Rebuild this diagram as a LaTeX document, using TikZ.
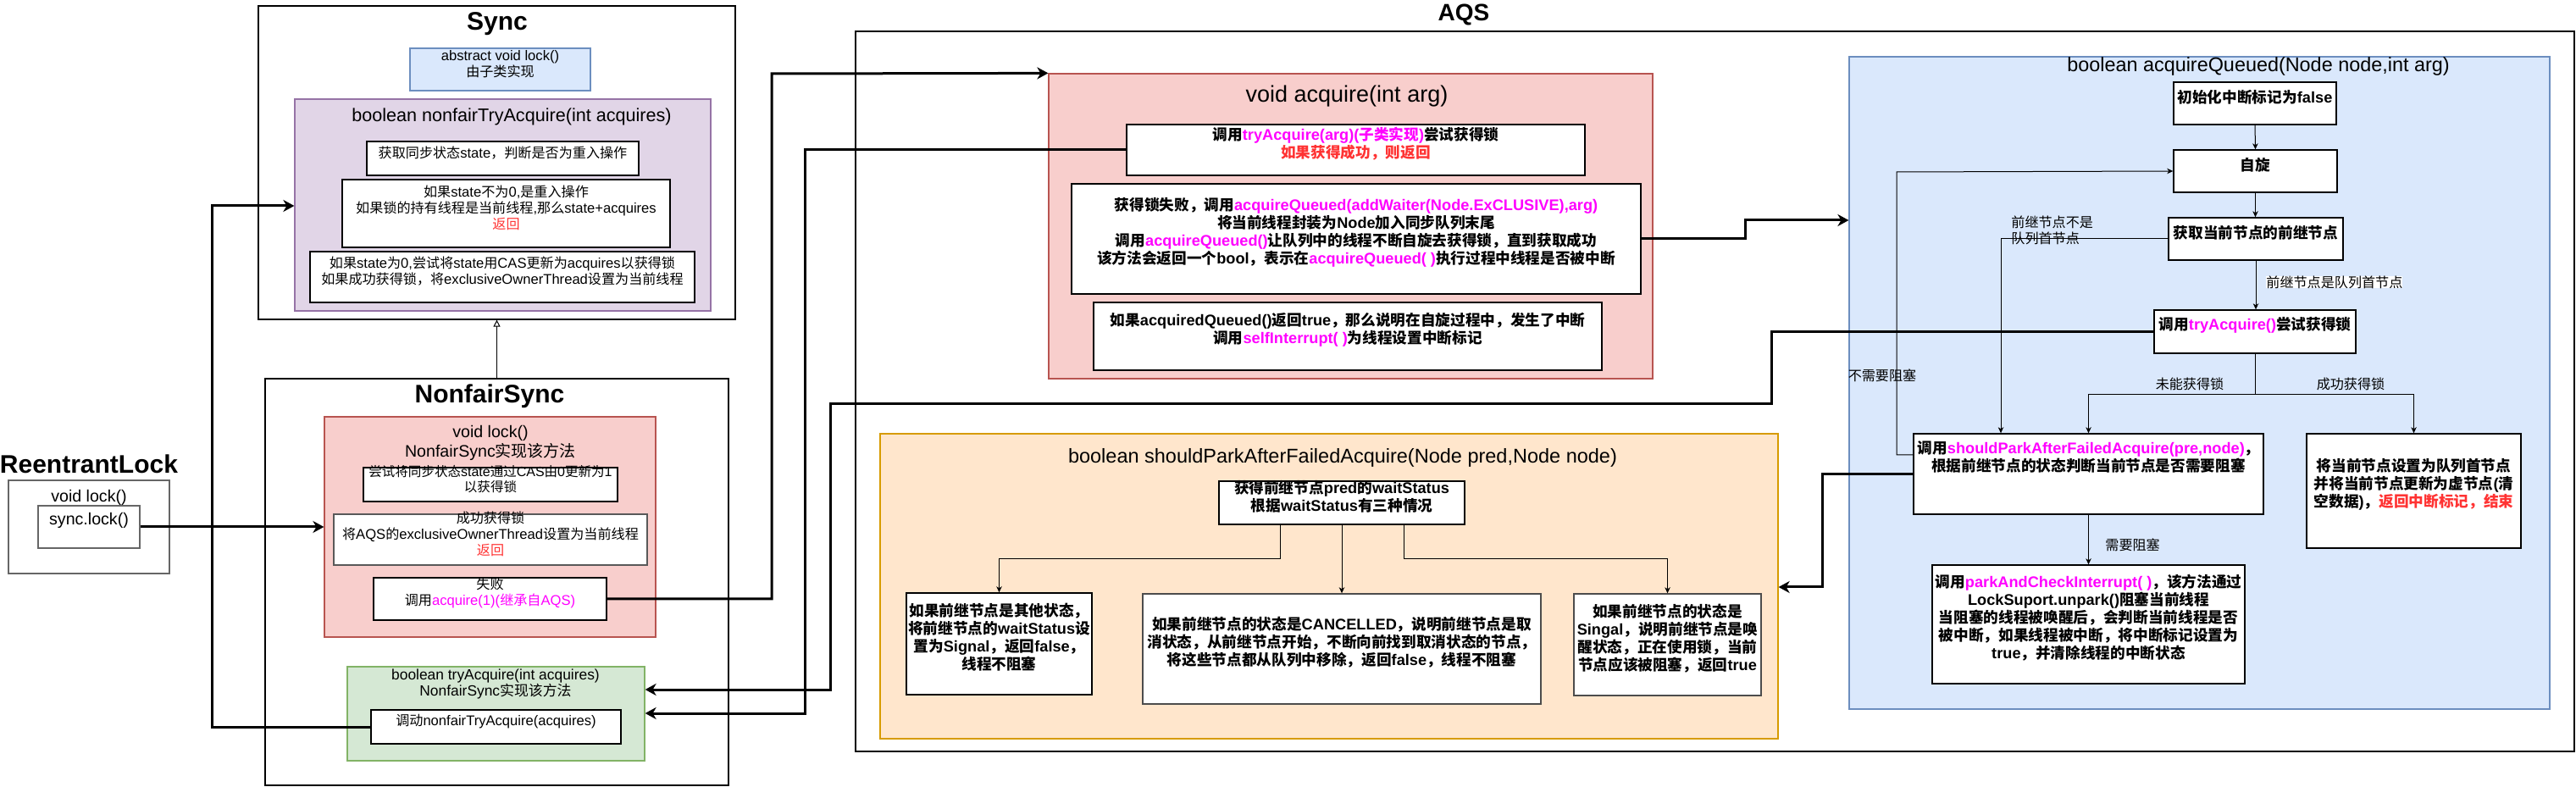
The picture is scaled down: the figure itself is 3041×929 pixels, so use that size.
\documentclass[tikz,border=0pt]{standalone}
\usepackage{fontspec}
\setmainfont{Liberation Sans}
\newfontfamily\cjkfont[Scale=0.97]{Noto Sans CJK SC}
\usetikzlibrary{arrows.meta,fit}
\XeTeXinterchartokenstate=1
\chardef\cjkcls=7
\newcount\cjkcnt
\def\cjkrange#1#2{\cjkcnt=#1\relax\loop\XeTeXcharclass\cjkcnt=\cjkcls\relax\ifnum\cjkcnt<#2\relax\advance\cjkcnt by 1\relax\repeat}
\cjkrange{"3000}{"303F}
\cjkrange{"4E00}{"9FFF}
\cjkrange{"FF00}{"FFEF}
\XeTeXinterchartoks 0 \cjkcls = {\cjkfont}
\XeTeXinterchartoks 4095 \cjkcls = {\cjkfont}
\XeTeXinterchartoks \cjkcls 0 = {\rmfamily}
\XeTeXinterchartoks 4095 0 = {\rmfamily}
\definecolor{pinkF}{HTML}{F8CECC}\definecolor{pinkD}{HTML}{B85450}
\definecolor{purF}{HTML}{E1D5E7}\definecolor{purD}{HTML}{9673A6}
\definecolor{bluF}{HTML}{DAE8FC}\definecolor{bluD}{HTML}{6C8EBF}
\definecolor{grnF}{HTML}{D5E8D4}\definecolor{grnD}{HTML}{82B366}
\definecolor{orgF}{HTML}{FFE6CC}\definecolor{orgD}{HTML}{D79B00}
\definecolor{magT}{HTML}{FF00FF}\definecolor{redT}{HTML}{FF3333}
\tikzset{
  cont/.style={draw=black, line width=0.6pt, inner sep=0pt},
  wbox/.style={draw=black, fill=white, line width=0.7pt, inner sep=0pt, align=center},
  syt/.style={font=\fontsize{8.3}{9.6}\selectfont},
  aqt/.style={font=\bfseries\fontsize{9.1}{10.5}\selectfont},
  ttl/.style={font=\bfseries\fontsize{15}{18}\selectfont, inner sep=0pt},
  lbl/.style={font=\fontsize{8.3}{9.6}\selectfont, inner sep=0pt, align=left},
  thk/.style={line width=1.5pt, -{Stealth[length=6.5pt,width=7pt,inset=2pt]}},
  thn/.style={line width=0.5pt, -{Stealth[length=3.5pt,width=3.2pt,inset=1pt]}},
  inh/.style={line width=0.5pt, -{Triangle[open,length=4pt,width=4pt]}},
}
\begin{document}
\begin{tikzpicture}[x=0.5pt,y=-0.5pt,line join=miter]
\useasboundingbox (0,0) rectangle (3041,929);
% ---------------- Sync
\node[cont, fill=white, fit={(305,7)(868,377)}] (sync) {};
\node[ttl] (synct) at (587,28) {Sync};
\node[wbox, fill=bluF, draw=bluD, syt, fit={(484,57)(697,107)}] (abs) {abstract void lock()\\由子类实现};
\node[cont, fill=purF, draw=purD, fit={(348,117)(839,367)}] (pur) {};
\node[font=\fontsize{10.8}{12}\selectfont, inner sep=0pt] (purt) at (604,138) {boolean nonfairTryAcquire(int acquires)};
\node[wbox, syt, fit={(433,167)(754,207)}] (b1) {获取同步状态state，判断是否为重入操作};
\node[wbox, syt, fit={(404,212)(791,292)}] (b2) {如果state不为0,是重入操作\\如果锁的持有线程是当前线程,那么state+acquires\\{\color{redT}返回}};
\node[wbox, syt, fit={(366,297)(820,357)}] (b3) {如果state为0,尝试将state用CAS更新为acquires以获得锁\\如果成功获得锁，将exclusiveOwnerThread设置为当前线程};
% ---------------- NonfairSync
\node[cont, fill=white, fit={(313,447)(860,927)}] (nfs) {};
\node[ttl] (nfst) at (578,468) {NonfairSync};
\node[cont, fill=pinkF, draw=pinkD, fit={(383,492)(774,752)}] (lk) {};
\node[font=\fontsize{9.8}{10}\selectfont, align=center, inner sep=0pt] (lkt) at (579,523) {void lock()\\NonfairSync实现该方法};
\node[wbox, font=\fontsize{8}{9.3}\selectfont, fit={(429,552)(729,592)}] (na) {尝试将同步状态state通过CAS由0更新为1\\以获得锁};
\node[wbox, syt, draw=black!65, fit={(394,607)(764,667)}] (nb) {成功获得锁\\将AQS的exclusiveOwnerThread设置为当前线程\\{\color{redT}返回}};
\node[wbox, syt, fit={(441,682)(716,732)}] (nc) {失败\\调用{\color{magT}acquire(1)(继承自AQS)}};
\node[cont, fill=grnF, draw=grnD, fit={(410,787)(761,898)}] (grn) {};
\node[font=\fontsize{8.7}{9.5}\selectfont, align=center, inner sep=0pt] (grnt) at (585,808) {boolean tryAcquire(int acquires)\\NonfairSync实现该方法};
\node[wbox, syt, fit={(438,838)(733,878)}] (nft) {调动nonfairTryAcquire(acquires)};
% ---------------- ReentrantLock
\node[ttl] (rlt) at (105,548) {ReentrantLock};
\node[cont, draw=black!60, line width=0.9pt, fill=white, fit={(10,567)(200,677)}] (rl) {};
\node[font=\fontsize{9.8}{11}\selectfont, inner sep=0pt] (rlm) at (105,587) {void lock()};
\node[wbox, draw=black!60, line width=0.9pt, font=\fontsize{9.8}{11}\selectfont, fit={(45,597)(165,647)}] (syncl) {sync.lock()};
% ---------------- AQS
\node[cont, fill=white, fit={(1010,37)(3039,887)}] (aqs) {};
\node[ttl, font=\bfseries\fontsize{14}{16}\selectfont] (aqst) at (1728,17) {AQS};
\node[cont, fill=pinkF, draw=pinkD, fit={(1238,87)(1951,447)}] (acq) {};
\node[font=\fontsize{13.5}{15}\selectfont, inner sep=0pt] (acqt) at (1590,114) {void acquire(int arg)};
\node[wbox, aqt, fit={(1330,147)(1871,207)}] (t1) {调用{\color{magT}tryAcquire(arg)(子类实现)}尝试获得锁\\{\color{redT}如果获得成功，则返回}};
\node[wbox, aqt, fit={(1265,217)(1937,347)}] (t2) {获得锁失败，调用{\color{magT}acquireQueued(addWaiter(Node.ExCLUSIVE),arg)}\\将当前线程封装为Node加入同步队列末尾\\调用{\color{magT}acquireQueued()}让队列中的线程不断自旋去获得锁，直到获取成功\\该方法会返回一个bool，表示在{\color{magT}acquireQueued( )}执行过程中线程是否被中断};
\node[wbox, aqt, fit={(1291,357)(1891,437)}] (t3) {如果acquiredQueued()返回true，那么说明在自旋过程中，发生了中断\\调用{\color{magT}selfInterrupt( )}为线程设置中断标记};
% shouldParkAfterFailedAcquire
\node[cont, fill=orgF, draw=orgD, fit={(1039,512)(2099,872)}] (org) {};
\node[font=\fontsize{11.75}{13}\selectfont, inner sep=0pt] (orgt) at (1585,540) {boolean shouldParkAfterFailedAcquire(Node pred,Node node)};
\node[wbox, aqt, fit={(1439,568)(1729,619)}] (w1) {获得前继节点pred的waitStatus\\根据waitStatus有三种情况};
\node[wbox, aqt, fit={(1070,700)(1289,820)}] (oa) {如果前继节点是其他状态，\\将前继节点的waitStatus设\\置为Signal，返回false，\\线程不阻塞};
\node[wbox, aqt, draw=black!70, fit={(1349,701)(1819,831)}] (ob) {如果前继节点的状态是CANCELLED，说明前继节点是取\\消状态，从前继节点开始，不断向前找到取消状态的节点，\\将这些节点都从队列中移除，返回false，线程不阻塞};
\node[wbox, aqt, draw=black!70, fit={(1858,701)(2079,821)}] (oc) {如果前继节点的状态是\\Singal，说明前继节点是唤\\醒状态，正在使用锁，当前\\节点应该被阻塞，返回true};
% acquireQueued
\node[cont, fill=bluF, draw=bluD, fit={(2183,67)(3010,837)}] (aqq) {};
\node[font=\fontsize{11.7}{13}\selectfont, inner sep=0pt] (aqqt) at (2666,78) {boolean acquireQueued(Node node,int arg)};
\node[wbox, aqt, fit={(2566,97)(2758,147)}] (q1) {初始化中断标记为false};
\node[wbox, aqt, fit={(2566,177)(2759,227)}] (q2) {自旋};
\node[wbox, aqt, fit={(2560,257)(2766,307)}] (q3) {获取当前节点的前继节点};
\node[wbox, aqt, fit={(2543,366)(2781,417)}] (q4) {调用{\color{magT}tryAcquire()}尝试获得锁};
\node[wbox, aqt, fit={(2259,512)(2672,607)}] (s1) {调用{\color{magT}shouldParkAfterFailedAcquire(pre,node)}，\\根据前继节点的状态判断当前节点是否需要阻塞\\\strut};
\node[wbox, aqt, fit={(2723,512)(2976,647)}] (s2) {将当前节点设置为队列首节点\\并将当前节点更新为虚节点(清\\空数据)，{\color{redT}返回中断标记，结束}};
\node[wbox, aqt, fit={(2281,667)(2650,807)}] (s3) {调用{\color{magT}parkAndCheckInterrupt( )}，该方法通过\\LockSuport.unpark()阻塞当前线程\\当阻塞的线程被唤醒后，会判断当前线程是否\\被中断，如果线程被中断，将中断标记设置为\\true，并清除线程的中断状态};
% labels
\node[lbl] (lnb) at (2222,443) {不需要阻塞};
\node[lbl, anchor=west] (lnh) at (2374,272) {前继节点不是\\队列首节点};
\node[lbl, anchor=west, fill=white] (lih) at (2675,333) {前继节点是队列首节点};
\node[lbl] (lfail) at (2585,453) {未能获得锁};
\node[lbl] (lok) at (2775,453) {成功获得锁};
\node[lbl, anchor=west] (lneed) at (2485,643) {需要阻塞};
% ---------------- thin connectors
\draw[inh] (nfs.north) -- (sync.south);
\draw[thn] (q1.south) -- (q2.north);
\draw[thn] (q2.south) -- (q3.north -| q2.south);
\draw[thn] (q3.south) -- (q4.north -| q3.south);
\draw[thn] (q3.west) -| (s1.north -| 2362,0);
\draw[thn] (q4.south) -- ++(0,48) -| (s1.north);
\draw[thn] (q4.south) -- ++(0,48) -| (s2.north);
\draw[thn] (s1.south) -- (s3.north);
\draw[thn] (s1.west |- 0,537) -| (2239,203) -- (q2.west);
\draw[thn] (w1.south -| 1511,0) -- (1511,660) -| (oa.north);
\draw[thn] (w1.south) -- (ob.north -| w1.south);
\draw[thn] (w1.south -| 1657,0) -- (1657,660) -| (oc.north);
% ---------------- thick connectors
\draw[thk] (syncl.east) -- (lk.west |- syncl.east);
\draw[thk] (nft.west) -| (250,243) -- (pur.west |- 0,243);
\draw[thk] (nc.east) -| (911,87) -- (acq.north west);
\draw[thk] (t1.west) -| (950,842) -- (grn.east |- 0,842);
\draw[thk] (q4.west) -| (2091,477) -| (980,814) -- (grn.east |- 0,814);
\draw[thk] (t2.east) -| (2060,260) -- (aqq.west |- 0,260);
\draw[thk] (s1.west |- 0,560) -| (2151,693) -- (org.east |- 0,693);
\end{tikzpicture}
\end{document}
